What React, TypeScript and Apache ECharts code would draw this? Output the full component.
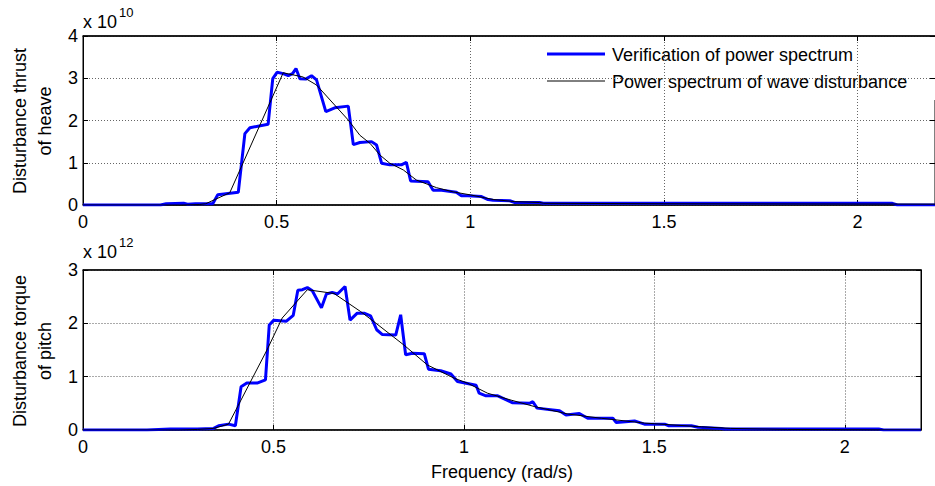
import React, { useEffect, useRef } from "react";
import * as echarts from "echarts";

const FONT = "'Liberation Sans', Arial, sans-serif";
const X_MIN = 0;
const X_MAX = 2.2;
const X_STEP = 0.5;
const SERIES_NAMES = ["Verification of power spectrum", "Power spectrum of wave disturbance"];
const SERIES_COLORS = ["#0000ff", "#000000"];
const SERIES_WIDTHS = [3, 1];
const Y_NAMES = [["Disturbance thrust", "of heave"], ["Disturbance torque", "of pitch"]];
const Y_EXPONENTS = ["10", "12"];
const Y_MAX = [4, 3];
const X_NAME = "Frequency (rad/s)";

// Heave (top), values in units of 1e10
const heaveVerifyF = [0, 0.2, 0.215, 0.26, 0.27, 0.29, 0.335, 0.348, 0.401, 0.418, 0.431, 0.478, 0.49, 0.501, 0.517, 0.53, 0.541, 0.55, 0.56, 0.575, 0.59, 0.603, 0.627, 0.65, 0.685, 0.698, 0.715, 0.745, 0.758, 0.771, 0.792, 0.822, 0.835, 0.846, 0.891, 0.904, 0.926, 0.964, 0.977, 0.994, 1.029, 1.046, 1.059, 1.102, 1.115, 1.179, 1.188, 2.09, 2.103, 2.2];
const heaveVerifyV = [0, 0, 0.03, 0.04, 0.02, 0.03, 0.03, 0.24, 0.3, 1.69, 1.83, 1.91, 2.99, 3.14, 3.11, 3.06, 3.11, 3.23, 2.99, 2.98, 3.06, 2.96, 2.21, 2.3, 2.34, 1.43, 1.48, 1.5, 1.42, 0.99, 0.95, 0.95, 1.01, 0.57, 0.55, 0.35, 0.35, 0.3, 0.22, 0.22, 0.2, 0.13, 0.11, 0.1, 0.06, 0.06, 0.04, 0.04, 0, 0];
const heaveSpecF = [0, 0.25, 0.3, 0.317, 0.379, 0.517, 0.568, 0.603, 0.685, 0.715, 0.741, 0.767, 0.792, 0.827, 0.861, 0.913, 0.956, 1.0, 1.059, 1.115, 1.179, 1.19, 1.5, 2.2];
const heaveSpecV = [0, 0, 0.01, 0.03, 0.29, 3.13, 3.03, 2.84, 2.01, 1.65, 1.46, 1.18, 0.99, 0.83, 0.59, 0.41, 0.31, 0.24, 0.13, 0.08, 0.06, 0.04, 0.03, 0.02];

// Pitch (bottom), values in units of 1e12
const pitchVerifyF = [0, 0.168, 0.229, 0.3, 0.343, 0.356, 0.382, 0.4, 0.415, 0.43, 0.457, 0.479, 0.489, 0.501, 0.534, 0.552, 0.564, 0.576, 0.589, 0.602, 0.626, 0.639, 0.654, 0.668, 0.688, 0.701, 0.72, 0.738, 0.755, 0.771, 0.786, 0.821, 0.834, 0.847, 0.865, 0.896, 0.907, 0.939, 0.966, 0.983, 1.032, 1.04, 1.058, 1.089, 1.128, 1.172, 1.181, 1.192, 1.251, 1.268, 1.303, 1.325, 1.391, 1.4, 1.448, 1.474, 1.527, 1.538, 1.597, 1.615, 1.676, 1.685, 2.089, 2.102, 2.2];
const pitchVerifyV = [0, 0, 0.02, 0.02, 0.03, 0.08, 0.11, 0.08, 0.81, 0.88, 0.88, 0.94, 1.97, 2.06, 2.04, 2.15, 2.62, 2.63, 2.67, 2.61, 2.29, 2.55, 2.58, 2.55, 2.69, 2.06, 2.19, 2.19, 2.14, 1.88, 1.79, 1.78, 2.16, 1.41, 1.44, 1.43, 1.14, 1.11, 1.05, 0.91, 0.84, 0.69, 0.64, 0.64, 0.51, 0.5, 0.53, 0.41, 0.36, 0.28, 0.31, 0.22, 0.22, 0.14, 0.17, 0.11, 0.11, 0.08, 0.08, 0.05, 0.03, 0.02, 0.02, 0, 0];
const pitchSpecF = [0, 0.25, 0.3, 0.343, 0.382, 0.483, 0.523, 0.589, 0.659, 0.729, 0.764, 0.843, 0.904, 0.975, 1.009, 1.062, 1.124, 1.185, 1.273, 1.361, 1.474, 1.624, 1.7, 1.85, 2.2];
const pitchSpecV = [0, 0, 0.01, 0.03, 0.11, 1.5, 2.1, 2.63, 2.56, 2.22, 2.03, 1.59, 1.22, 0.97, 0.88, 0.69, 0.56, 0.44, 0.3, 0.22, 0.13, 0.06, 0.03, 0.01, 0];

const zip = (f: number[], v: number[]) => f.map((x, i) => [x, v[i]]);

export default function App() {
  const ref = useRef<HTMLDivElement>(null);
  useEffect(() => {
    if (!ref.current) return;
    const chart = echarts.init(ref.current, null, { renderer: "svg" });
    const grids = [
      { left: 83, top: 36, width: 852, height: 169 },
      { left: 83, top: 270, width: 838, height: 160 },
    ];
    const gridLine = [
      { color: "#666", type: [1, 2] as any, width: 1 },
      { color: "#aaa", type: [2, 1] as any, width: 1 },
    ];
    const xAxis: any[] = [];
    const yAxis: any[] = [];
    grids.forEach((_, g) => {
      xAxis.push({
        type: "value", gridIndex: g, min: X_MIN, max: X_MAX, interval: X_STEP, position: "bottom",
        axisLine: { show: true, onZero: false, lineStyle: { color: "#000", width: 1.5 } },
        axisTick: { show: true, inside: true, length: 5, lineStyle: { color: "#000" } },
        axisLabel: { show: true, showMaxLabel: false, margin: 8, fontSize: 18, color: "#000", fontFamily: FONT },
        splitLine: { show: true, lineStyle: gridLine[g] },
        name: g === 1 ? X_NAME : "",
        nameLocation: "middle", nameGap: 33,
        nameTextStyle: { fontSize: 18, color: "#000", fontFamily: FONT },
      });
      xAxis.push({
        type: "value", gridIndex: g, min: X_MIN, max: X_MAX, interval: X_STEP, position: "top",
        axisLine: { show: true, onZero: false, lineStyle: { color: "#000", width: 1.5 } },
        axisTick: { show: true, inside: true, length: 5, lineStyle: { color: "#000" } },
        axisLabel: { show: false }, splitLine: { show: false },
      });
      yAxis.push({
        type: "value", gridIndex: g, min: 0, max: Y_MAX[g], interval: 1, position: "left",
        axisLine: { show: true, onZero: false, lineStyle: { color: "#000", width: 1 } },
        axisTick: { show: true, inside: true, length: 5, lineStyle: { color: "#000" } },
        axisLabel: { show: true, margin: 5, fontSize: 18, color: "#000", fontFamily: FONT },
        splitLine: { show: true, lineStyle: gridLine[g] },
      });
      yAxis.push({
        type: "value", gridIndex: g, min: 0, max: Y_MAX[g], interval: 1, position: "right",
        axisLine: { show: true, onZero: false, lineStyle: { color: "#000", width: 1 } },
        axisTick: { show: true, inside: true, length: 5, lineStyle: { color: "#000" } },
        axisLabel: { show: false }, splitLine: { show: false },
      });
    });
    const datasets = [
      [zip(heaveVerifyF, heaveVerifyV), zip(heaveSpecF, heaveSpecV)],
      [zip(pitchVerifyF, pitchVerifyV), zip(pitchSpecF, pitchSpecV)],
    ];
    const series: any[] = [];
    datasets.forEach((pair, g) => {
      pair.forEach((data, s) => {
        series.push({
          type: "line", name: SERIES_NAMES[s], xAxisIndex: g * 2, yAxisIndex: g * 2,
          data, symbol: "none", showSymbol: false, clip: true,
          lineStyle: { color: SERIES_COLORS[s], width: SERIES_WIDTHS[s] },
          itemStyle: { color: SERIES_COLORS[s] }, z: 3 + s,
        });
      });
    });
    const graphic: any[] = [];
    const yCenters = [121, 351];
    const nameXs = [20, 45];
    const expY = [22, 252];
    Y_NAMES.forEach((lines, g) => {
      lines.forEach((line, li) => {
        graphic.push({
          type: "text", x: nameXs[li], y: yCenters[g], rotation: Math.PI / 2,
          style: { text: line, fill: "#000", fontSize: 18, fontFamily: FONT, align: "center", verticalAlign: "middle" },
        });
      });
      graphic.push({
        type: "text", x: 83, y: expY[g],
        style: { text: "x 10", fill: "#000", fontSize: 18, fontFamily: FONT, align: "left", verticalAlign: "middle" },
      });
      graphic.push({
        type: "text", x: 119, y: expY[g] - 10,
        style: { text: Y_EXPONENTS[g], fill: "#000", fontSize: 13, fontFamily: FONT, align: "left", verticalAlign: "middle" },
      });
    });
    // legend box (MATLAB-style, line samples)
    const legendRows = [54, 81];
    const legendGroup: any = {
      type: "group", z: 100,
      children: [
        { type: "rect", shape: { x: 533, y: 37, width: 402, height: 63 }, style: { fill: "#fff" } },
      ],
    };
    SERIES_NAMES.forEach((name, s) => {
      legendGroup.children.push({
        type: "line", shape: { x1: 547, y1: legendRows[s], x2: 605, y2: legendRows[s] },
        style: { stroke: SERIES_COLORS[s], lineWidth: SERIES_WIDTHS[s] },
      });
      legendGroup.children.push({
        type: "text", x: 612, y: legendRows[s] + 1,
        style: { text: name, fill: "#000", fontSize: 18, fontFamily: FONT, align: "left", verticalAlign: "middle" },
      });
    });
    graphic.push(legendGroup);
    chart.setOption({
      animation: false,
      grid: grids.map((gr) => ({ ...gr, show: true, borderColor: "#000", borderWidth: 1, backgroundColor: "#fff" })),
      xAxis, yAxis, series, graphic,
    });
    return () => chart.dispose();
  }, []);
  return <div ref={ref} style={{ position: "absolute", left: 0, top: 0, width: 935, height: 486 }} />;
}
